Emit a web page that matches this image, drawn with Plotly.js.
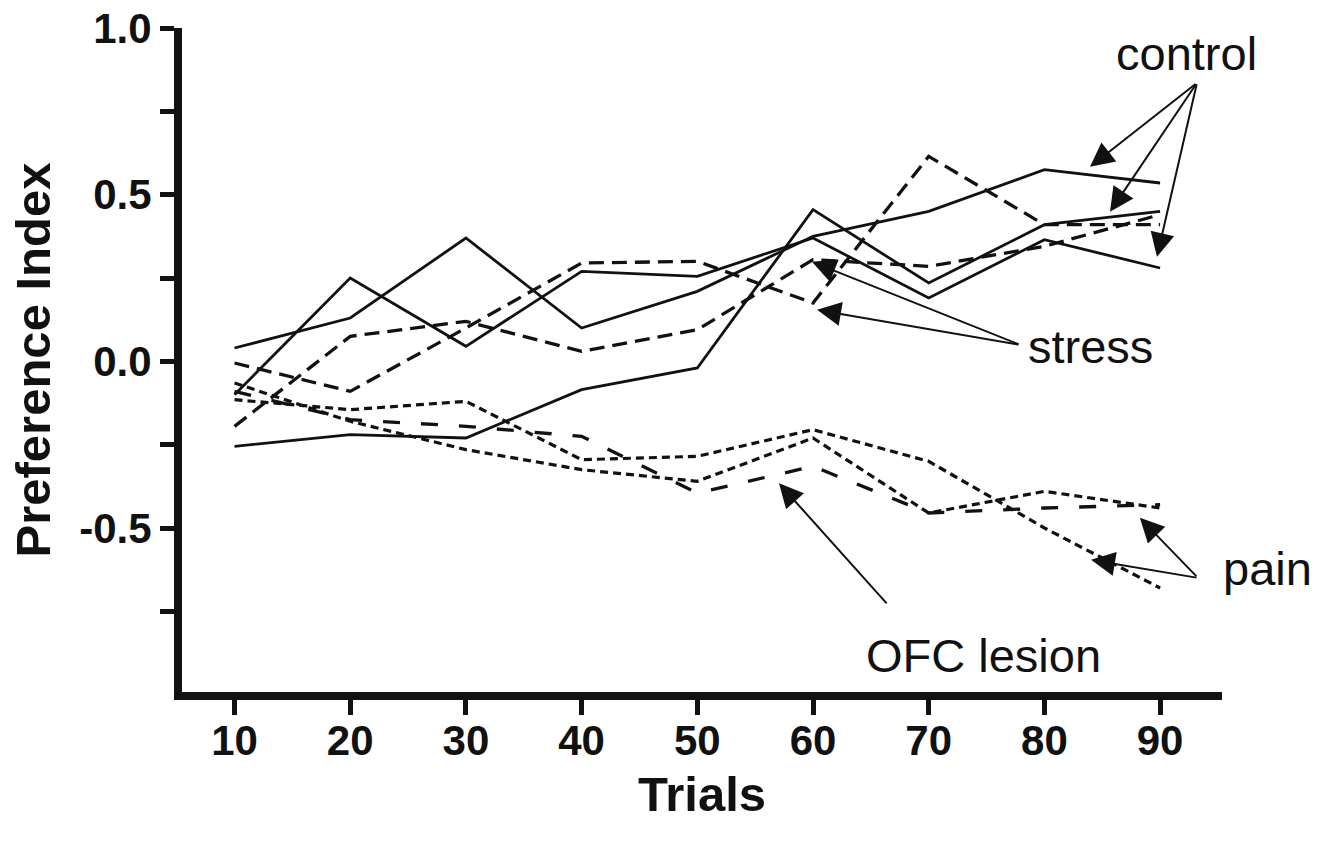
<!DOCTYPE html>
<html>
<head>
<meta charset="utf-8">
<script src="https://cdn.plot.ly/plotly-3.0.1.min.js"></script>
<style>html,body{margin:0;padding:0;background:#fff;}#chart{width:1319px;height:841px;}</style>
</head>
<body>
<div id="chart"></div>
<script>
// Trials (x categories)
const trials = [10, 20, 30, 40, 50, 60, 70, 80, 90];

// Control groups (solid lines)
const control1 = [0.04, 0.13, 0.37, 0.10, 0.21, 0.375, 0.45, 0.575, 0.535];
const control2 = [-0.10, 0.25, 0.045, 0.27, 0.255, 0.37, 0.19, 0.365, 0.28];
const control3 = [-0.255, -0.22, -0.23, -0.085, -0.02, 0.455, 0.235, 0.41, 0.45];

// Stress groups (dashed lines)
const stress1 = [-0.005, -0.09, 0.10, 0.295, 0.30, 0.175, 0.615, 0.41, 0.41];
const stress2 = [-0.195, 0.075, 0.12, 0.03, 0.095, 0.305, 0.285, 0.345, 0.44];

// Pain groups (dotted lines)
const pain1 = [-0.115, -0.145, -0.12, -0.295, -0.285, -0.205, -0.30, -0.50, -0.68];
const pain2 = [-0.065, -0.18, -0.265, -0.325, -0.36, -0.23, -0.455, -0.39, -0.44];

// OFC lesion group (long dashes)
const ofcLesion = [-0.09, -0.175, -0.195, -0.225, -0.395, -0.315, -0.455, -0.44, -0.43];

// Tick labels
const xTickVals = [10, 20, 30, 40, 50, 60, 70, 80, 90];
const xTickText = ['10', '20', '30', '40', '50', '60', '70', '80', '90'];
const yTickVals = [-0.75, -0.5, -0.25, 0, 0.25, 0.5, 0.75, 1.0];
const yTickText = ['', '-0.5', '', '0.0', '', '0.5', '', '1.0'];

// Group labels and the points their arrows touch: [tipX, tipY, tailX, tailY]
const labelControl = 'control';
const labelStress = 'stress';
const labelPain = 'pain';
const labelOFC = 'OFC lesion';
const arrowsControl = [[83.94, 0.5836, 93.19, 0.8356], [85.67, 0.4486, 93.19, 0.8356], [89.73, 0.3135, 93.19, 0.8356]];
const arrowsStress = [[59.91, 0.2985, 77.89, 0.0495], [60.35, 0.1545, 77.89, 0.0495]];
const arrowsPain = [[88.25, -0.4696, 93.27, -0.6496], [84.03, -0.5956, 93.27, -0.6496]];
const arrowsOFC = [[57.06, -0.366, 66.48, -0.7306]];

const INK = '#111111';
const styles = {
  control: {color: INK, width: 2.8, dash: 'solid'},
  stress: {color: INK, width: 3.3, dash: '15px,8px'},
  pain: {color: INK, width: 3.2, dash: '8px,5px'},
  ofc: {color: INK, width: 3.3, dash: '17px,21px'}
};

function series(y, style, name) {
  return {x: trials, y: y, type: 'scatter', mode: 'lines', name: name,
          line: Object.assign({}, style), hoverinfo: 'skip', showlegend: false};
}

const data = [
  series(control1, styles.control, 'control 1'),
  series(control2, styles.control, 'control 2'),
  series(control3, styles.control, 'control 3'),
  series(stress1, styles.stress, 'stress 1'),
  series(stress2, styles.stress, 'stress 2'),
  series(pain1, styles.pain, 'pain 1'),
  series(pain2, styles.pain, 'pain 2'),
  series(ofcLesion, styles.ofc, 'OFC lesion')
];

const FAMILY = 'Liberation Sans, Arial, Helvetica, sans-serif';
const labelFont = {family: FAMILY, size: 47, color: INK};
const tickFont = {family: FAMILY, size: 42, color: INK, weight: 'bold'};
const titleFont = {family: FAMILY, size: 49, color: INK, weight: 'bold'};

const annotations = [];
function addLabel(text, px, py) {
  annotations.push({text: text, xref: 'paper', yref: 'paper', x: px, y: py,
    xanchor: 'center', yanchor: 'middle', showarrow: false, font: labelFont});
}
function addArrows(list) {
  list.forEach(a => annotations.push({text: '', x: a[0], y: a[1], ax: a[2], ay: a[3],
    xref: 'x', yref: 'y', axref: 'x', ayref: 'y', showarrow: true,
    arrowhead: 2, arrowsize: 2.4, arrowwidth: 2, arrowcolor: INK, standoff: 0, startstandoff: 0}));
}
addLabel(labelControl, 0.9663, 0.962);
addLabel(labelStress, 0.874, 0.52);
addLabel(labelPain, 1.0433, 0.186);
addLabel(labelOFC, 0.7702, 0.055);
addArrows(arrowsControl);
addArrows(arrowsStress);
addArrows(arrowsPain);
addArrows(arrowsOFC);

const layout = {
  width: 1319, height: 841,
  margin: {l: 182, r: 97, t: 28, b: 149},
  paper_bgcolor: '#ffffff', plot_bgcolor: '#ffffff',
  showlegend: false,
  xaxis: {
    range: [5.46, 95.35], tickvals: xTickVals, ticktext: xTickText,
    ticks: 'outside', ticklen: 15, tickwidth: 5, tickcolor: INK,
    ticklabelstandoff: -10,
    showline: true, linewidth: 8, linecolor: INK,
    showgrid: false, zeroline: false, tickfont: tickFont,
    title: {text: 'Trials', font: titleFont, standoff: 16}
  },
  yaxis: {
    range: [-0.992, 1.0], tickvals: yTickVals, ticktext: yTickText,
    ticks: 'outside', ticklen: 14, tickwidth: 5, tickcolor: INK,
    showline: true, linewidth: 8, linecolor: INK,
    showgrid: false, zeroline: false, tickfont: tickFont,
    title: {text: 'Preference Index', font: titleFont, standoff: 16}
  },
  annotations: annotations
};

Plotly.newPlot('chart', data, layout, {staticPlot: true, displayModeBar: false});
</script>
</body>
</html>
